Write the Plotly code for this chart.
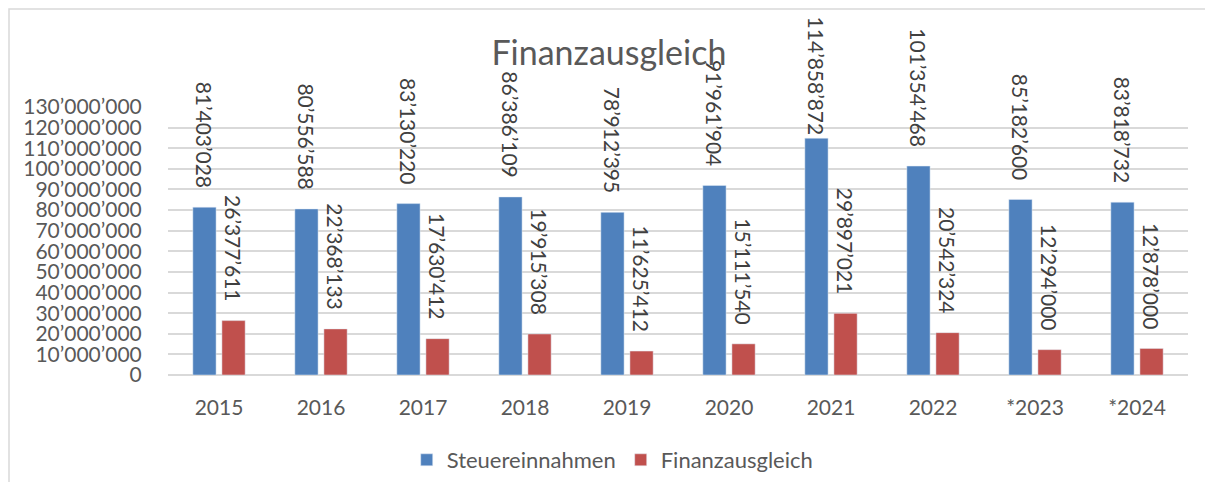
import plotly.graph_objects as go

years = ["2015", "2016", "2017", "2018", "2019", "2020", "2021", "2022", "*2023", "*2024"]
steuer = [81403028, 80556588, 83130220, 86386109, 78912395, 91961904, 114858872, 101354468, 85182600, 83818732]
finanz = [26377611, 22368133, 17630412, 19915308, 11625412, 15111540, 29897021, 20542324, 12294000, 12878000]
ytick_vals = list(range(0, 130000001, 10000000))
YMAX = 130000000


def fmt(v):
    return f"{v:,}".replace(",", "\u2019")


FONT = "Lato, Carlito, Calibri, sans-serif"
TXT = "#595959"
LAB = "#404040"

# figure is drawn inside the page's default 8px body margin
W, H = 1197, 474
L, T, R, B = 160, 99, 17, 107
PH = H - T - B  # 268
PW = W - L - R  # 1020


def lab(v):
    # pad the label away from the bar end, unless it would run off the top of the chart
    top_px = T + PH * (1 - v / YMAX)
    text_len = 11.2 * len(fmt(v))
    if top_px - text_len - 20 > 8:
        return fmt(v) + "\u00a0\u00a0\u00a0"
    return fmt(v)


fig = go.Figure()
fig.add_trace(go.Bar(x=years, y=steuer, name="Steuereinnahmen", marker_color="#4F81BD",
                     text=[lab(v) for v in steuer], textposition="outside", textangle=90,
                     constraintext="none", cliponaxis=False,
                     textfont=dict(size=21, color=LAB, family=FONT)))
fig.add_trace(go.Bar(x=years, y=finanz, name="Finanzausgleich", marker_color="#C0504D",
                     text=[lab(v) for v in finanz], textposition="outside", textangle=90,
                     constraintext="none", cliponaxis=False,
                     textfont=dict(size=21, color=LAB, family=FONT)))

fig.update_layout(
    width=W, height=H,
    margin=dict(l=L, r=R, t=T, b=B, autoexpand=False),
    paper_bgcolor="white", plot_bgcolor="white",
    font=dict(family=FONT, color=TXT, size=21),
    barmode="group", bargap=0.43, bargroupgap=0.2,
    title=dict(text="Finanzausgleich", x=0.502, xanchor="center", y=1 - 45 / H, yanchor="middle",
               font=dict(size=34, color=TXT, family=FONT)),
    legend=dict(orientation="h", x=0.436, xanchor="center", y=-85 / PH, yanchor="middle",
                font=dict(size=22, color=TXT, family=FONT), itemwidth=30),
    showlegend=True,
)
fig.update_yaxes(range=[0, YMAX], tickvals=ytick_vals,
                 ticktext=[fmt(v) for v in ytick_vals], automargin=False,
                 showgrid=True, gridcolor="#D9D9D9", gridwidth=1.5,
                 zeroline=True, zerolinecolor="#D9D9D9", zerolinewidth=1.5,
                 showline=False, ticks="outside", ticklen=21, tickcolor="rgba(0,0,0,0)",
                 tickfont=dict(size=21, color=TXT, family=FONT))
fig.update_xaxes(showgrid=False, showline=False, ticks="outside", ticklen=14, automargin=False,
                 tickcolor="rgba(0,0,0,0)", tickfont=dict(size=21, color=TXT, family=FONT))

# outer chart border (light gray), top and left visible
fig.add_shape(type="rect", xref="paper", yref="paper",
              x0=(1 - L) / PW, x1=1.05, y0=-0.6, y1=1 + (T - 1) / PH,
              line=dict(color="#D9D9D9", width=1.5), fillcolor="rgba(0,0,0,0)", layer="below")

fig.write_html("out.html")
